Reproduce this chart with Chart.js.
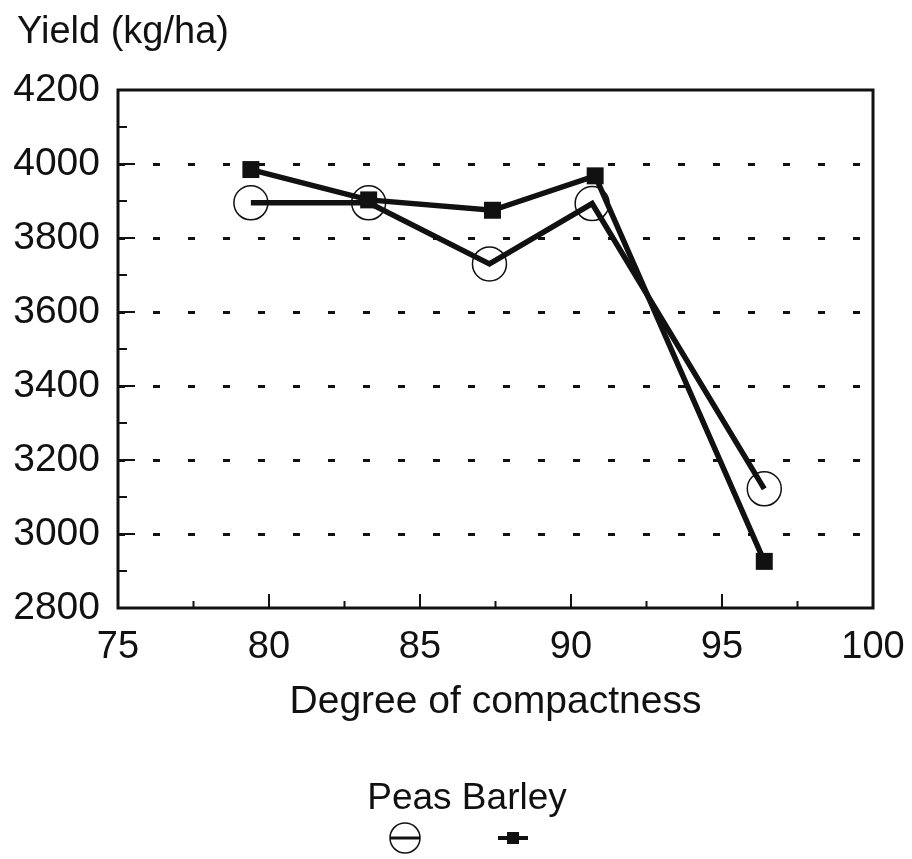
<!DOCTYPE html>
<html>
<head>
<meta charset="utf-8">
<script src="https://cdn.jsdelivr.net/npm/chart.js@4.4.0/dist/chart.umd.min.js"></script>
<style>
  html, body { margin: 0; padding: 0; background: #fff; }
  #wrap { width: 912px; height: 859px; position: relative; }
</style>
</head>
<body>
<div id="wrap"><canvas id="yield-chart"></canvas></div>
<script>
// values
var peasX   = [79.4, 83.3, 87.3, 90.7, 96.4];
var peasY   = [3895, 3895, 3730, 3893, 3122];
var barleyX = [79.4, 83.3, 87.4, 90.8, 96.4];
var barleyY = [3985, 3903, 3875, 3968, 2926];

var xTicks = [75, 80, 85, 90, 95, 100];
var yTicks = [2800, 3000, 3200, 3400, 3600, 3800, 4000, 4200];

var FONT = '"Liberation Sans", Arial, Helvetica, sans-serif';
var INK = '#111';

function toPoints(xs, ys) {
  return xs.map(function(x, i){ return { x: x, y: ys[i] }; });
}

// frame + inside tick marks, then titles and the legend
var paperPlugin = {
  id: 'paper',
  beforeDatasetsDraw: function(chart) {
    var c = chart.ctx, a = chart.chartArea;
    var xs = chart.scales.x, ys = chart.scales.y;
    c.save();
    c.strokeStyle = INK;
    c.lineWidth = 2;
    c.beginPath();
    for (var v = 2800; v <= 4200; v += 100) {
      var py = ys.getPixelForValue(v);
      var len = (v % 200 === 0) ? 17 : 9;
      c.moveTo(a.left, py); c.lineTo(a.left + len, py);
    }
    for (var u = 75; u <= 100; u += 2.5) {
      var px = xs.getPixelForValue(u);
      var l2 = (u % 5 === 0) ? 14 : 7;
      c.moveTo(px, a.bottom); c.lineTo(px, a.bottom - l2);
    }
    c.stroke();
    c.lineWidth = 3;
    c.strokeRect(a.left, a.top, a.right - a.left, a.bottom - a.top);
    c.restore();
  },
  afterDraw: function(chart) {
    var c = chart.ctx, a = chart.chartArea;
    c.save();
    c.fillStyle = INK;
    c.strokeStyle = INK;
    c.textBaseline = 'alphabetic';

    c.font = '38px ' + FONT;
    c.textAlign = 'left';
    c.fillText('Yield (kg/ha)', 17, 43);

    c.font = '39px ' + FONT;
    c.textAlign = 'center';
    c.fillText('Degree of compactness', (a.left + a.right) / 2, a.bottom + 105);

    c.font = '37px ' + FONT;
    c.fillText('Peas Barley', 467, a.bottom + 201);

    // legend symbols
    var sy = a.bottom + 230;
    c.lineWidth = 1.5;
    c.beginPath(); c.arc(405, sy, 15, 0, Math.PI * 2); c.stroke();
    c.lineWidth = 3;
    c.beginPath(); c.moveTo(390, sy); c.lineTo(420, sy); c.stroke();
    c.lineWidth = 4;
    c.beginPath(); c.moveTo(498, sy); c.lineTo(528, sy); c.stroke();
    c.fillRect(507, sy - 6, 12, 12);
    c.restore();
  }
};

new Chart(document.getElementById('yield-chart'), {
  type: 'scatter',
  data: {
    datasets: [
      {
        label: 'Peas',
        data: toPoints(peasX, peasY),
        showLine: true,
        borderColor: INK,
        borderWidth: 5.5,
        pointStyle: 'circle',
        pointRadius: 17,
        pointBorderWidth: 1.5,
        pointBackgroundColor: 'rgba(0,0,0,0)',
        pointBorderColor: INK
      },
      {
        label: 'Barley',
        data: toPoints(barleyX, barleyY),
        showLine: true,
        borderColor: INK,
        borderWidth: 5.5,
        pointStyle: 'rect',
        pointRadius: 12,
        pointBorderWidth: 0,
        pointBackgroundColor: INK,
        pointBorderColor: INK
      }
    ]
  },
  options: {
    responsive: true,
    maintainAspectRatio: false,
    animation: false,
    layout: { padding: { top: 90, right: 39, left: 0, bottom: 0 } },
    plugins: { legend: { display: false }, tooltip: { enabled: false } },
    scales: {
      x: {
        type: 'linear',
        min: 75, max: 100,
        afterBuildTicks: function(s){ s.ticks = xTicks.map(function(v){ return { value: v }; }); },
        afterFit: function(s){ s.height = 251; s.paddingLeft = 0; s.paddingRight = 0; },
        grid: { display: false, drawTicks: false },
        border: { display: false },
        ticks: { color: INK, padding: 17, maxRotation: 0, font: { family: FONT, size: 38 } }
      },
      y: {
        type: 'linear',
        min: 2800, max: 4200,
        afterBuildTicks: function(s){ s.ticks = yTicks.map(function(v){ return { value: v }; }); },
        afterFit: function(s){ s.width = 118; s.paddingTop = 0; s.paddingBottom = 0; },
        grid: {
          drawTicks: false,
          lineWidth: 3,
          color: function(ctx){
            var v = ctx.tick && ctx.tick.value;
            return (v > 2800 && v < 4200) ? INK : 'rgba(0,0,0,0)';
          }
        },
        border: { display: false, dash: [7, 28] },
        ticks: {
          color: INK, padding: 18, font: { family: FONT, size: 39 },
          callback: function(v){ return String(v); }
        }
      }
    }
  },
  plugins: [paperPlugin]
});
</script>
</body>
</html>
